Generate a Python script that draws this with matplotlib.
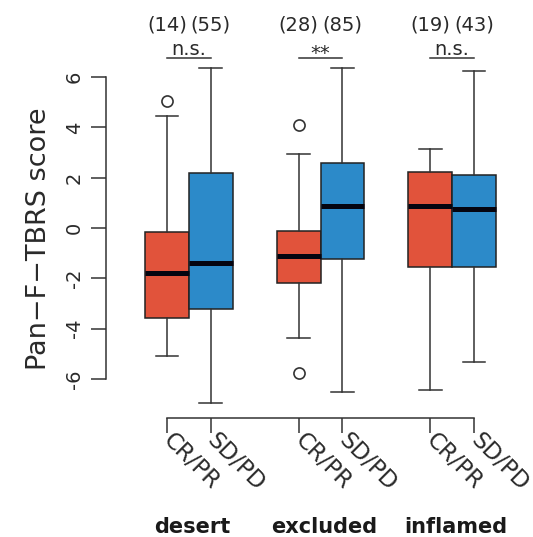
import matplotlib
matplotlib.use('Agg')
import matplotlib.pyplot as plt

plt.rcParams['font.family'] = ['DejaVu Sans']

# Valores (estatísticas dos boxplots)
grupos = ['desert', 'excluded', 'inflamed']
respostas = ['CR/PR', 'SD/PD']
posicoes = [1, 2, 4, 5, 7, 8]
n_amostras = [14, 55, 28, 85, 19, 43]
signif = ['n.s.', '**', 'n.s.']

medianas = [-1.80, -1.40, -1.11, 0.89, 0.89, 0.75]
q1 = [-3.59, -3.23, -2.20, -1.24, -1.56, -1.56]
q3 = [-0.15, 2.17, -0.11, 2.57, 2.24, 2.11]
whislo = [-5.09, -6.97, -4.36, -6.50, -6.44, -5.31]
whishi = [4.45, 6.34, 2.93, 6.34, 3.13, 6.25]
outliers = [[5.06], [], [4.09, -5.75], [], [], []]

cores = ['#E1533B', '#2C8AC9']
cinza = '#2a2a2a'

stats = []
for i in range(len(posicoes)):
    stats.append(dict(med=medianas[i], q1=q1[i], q3=q3[i],
                      whislo=whislo[i], whishi=whishi[i], fliers=outliers[i]))

fig = plt.figure(figsize=(5.33, 5.37), dpi=100)
ax = fig.add_axes([106/533, (537-418)/537, (500-106)/533, (418-60)/537])

bp = ax.bxp(stats, positions=posicoes, widths=1.0, patch_artist=True,
            showfliers=True, manage_ticks=False,
            boxprops=dict(edgecolor='#222222', linewidth=1.1),
            medianprops=dict(color='#050510', linewidth=3.6, solid_capstyle='butt'),
            whiskerprops=dict(color='#333333', linewidth=1.1),
            capprops=dict(color='#333333', linewidth=1.1),
            flierprops=dict(marker='o', markerfacecolor='none', markeredgecolor='#333333',
                            markersize=8, markeredgewidth=1.2))
for i, caixa in enumerate(bp['boxes']):
    caixa.set_facecolor(cores[i % 2])
# staples com metade da largura da caixa, como no R
for cap in bp['caps']:
    xd = cap.get_xdata()
    meio = (xd[0] + xd[1]) / 2
    cap.set_xdata([meio - 0.26, meio + 0.26])
for artista in bp['whiskers'] + bp['caps'] + bp['boxes'] + bp['medians'] + bp['fliers']:
    artista.set_clip_on(False)

ax.set_xlim(1 - 61/43.86, 1 + (500-167)/43.86)
ax.set_ylim((228-418)/25.17, (228-60)/25.17)

for lado in ['top', 'right']:
    ax.spines[lado].set_visible(False)
ax.spines['left'].set_bounds(-6, 6)
ax.spines['bottom'].set_bounds(posicoes[0], posicoes[-1])
for lado in ['left', 'bottom']:
    ax.spines[lado].set_color('#333333')
    ax.spines[lado].set_linewidth(1.1)

ax.set_yticks([-6, -4, -2, 0, 2, 4, 6])
ax.set_yticklabels(['-6', '-4', '-2', '0', '2', '4', '6'], rotation=90, va='center')
ax.tick_params(axis='y', length=11, width=1.1, color='#333333', labelsize=14, pad=5, labelcolor=cinza)

ax.set_xticks(posicoes)
ax.set_xticklabels(respostas * 3, rotation=-45, ha='left', va='center', rotation_mode='anchor')
ax.tick_params(axis='x', length=11, width=1.1, color='#333333', labelsize=16.5, pad=3, labelcolor=cinza)

ax.set_ylabel('Pan−F−TBRS score', fontsize=19.5, color=cinza, labelpad=9)

# Contagens, significância e rótulos dos grupos
for i, p in enumerate(posicoes):
    ax.text(p, (228-25)/25.17, '(%d)' % n_amostras[i], ha='center', va='center', fontsize=14,
            color=cinza, clip_on=False)
for g in range(len(grupos)):
    p1, p2 = posicoes[2*g], posicoes[2*g + 1]
    yb = (228-55)/25.17 if signif[g] == 'n.s.' else (228-59)/25.17
    ax.text((p1 + p2) / 2, yb, signif[g], ha='center', va='baseline', fontsize=14,
            color=cinza, clip_on=False)
    ax.plot([p1, p2], [(228-58)/25.17] * 2, color='#333333', linewidth=1.1, clip_on=False)
    ax.text((p1 + p2) / 2 + 0.08, (228-533)/25.17, grupos[g], ha='center', va='baseline',
            fontsize=15, fontweight='bold', color='#1a1a1a', clip_on=False)

fig.savefig('out.png', dpi=100)
